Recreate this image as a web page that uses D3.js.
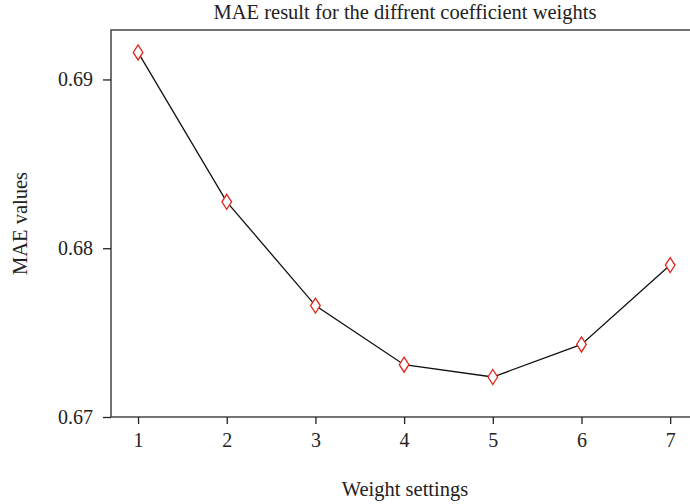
<!DOCTYPE html>
<html>
<head>
<meta charset="utf-8">
<script src="https://cdn.jsdelivr.net/npm/d3@7"></script>
<style>
  body { margin: 0; background: #fff; }
  svg text { font-family: "Liberation Serif", "DejaVu Serif", serif; fill: #222; }
</style>
</head>
<body>
<svg id="chart"></svg>
<script>
// 数据
let weights = [1, 2, 3, 4, 5, 6, 7];
let mae_values = [0.6916, 0.68275, 0.6766, 0.6731, 0.67237, 0.6743, 0.6790];
let y_ticks = [0.67, 0.68, 0.69];

function draw_mae(containerid) {
    let width = 690, height = 504;
    let padding = { left: 111, right: -9, top: 30, bottom: 87 };

    let svg = d3.select('#' + containerid)
        .attr('width', width)
        .attr('height', height);

    let x = d3.scaleLinear()
        .domain([0.695, 7.325])
        .range([padding.left, width - padding.right]);
    let y = d3.scaleLinear()
        .domain([0.67, 0.69293])
        .range([height - padding.bottom, padding.top]);

    // 边框
    svg.append('rect')
        .attr('x', padding.left)
        .attr('y', padding.top)
        .attr('width', width - padding.right - padding.left)
        .attr('height', height - padding.bottom - padding.top)
        .attr('fill', 'none')
        .attr('stroke', '#444')
        .attr('stroke-width', 1.5);

    // x axis
    let axis_x = d3.axisBottom(x)
        .tickValues(weights)
        .tickSize(7)
        .tickPadding(9)
        .tickFormat(d => d);
    let gx = svg.append('g')
        .attr('transform', `translate(0, ${height - padding.bottom})`)
        .call(axis_x);
    gx.select('.domain').remove();
    gx.selectAll('line').attr('stroke', '#222').attr('stroke-width', 1.3);
    gx.selectAll('text').attr('font-size', '20px').attr('fill', '#222');

    // y axis
    let axis_y = d3.axisLeft(y)
        .tickValues(y_ticks)
        .tickSize(8)
        .tickPadding(10)
        .tickFormat(d3.format('.2f'));
    let gy = svg.append('g')
        .attr('transform', `translate(${padding.left}, 0)`)
        .call(axis_y);
    gy.select('.domain').remove();
    gy.selectAll('line').attr('stroke', '#222').attr('stroke-width', 1.3);
    gy.selectAll('text').attr('font-size', '20px').attr('fill', '#222');

    // 折线
    let line = d3.line()
        .x((d, i) => x(weights[i]))
        .y(d => y(d));
    svg.append('path')
        .datum(mae_values)
        .attr('d', line)
        .attr('fill', 'none')
        .attr('stroke', '#111')
        .attr('stroke-width', 1.3);

    // 菱形点
    svg.append('g')
        .selectAll('path')
        .data(mae_values)
        .enter().append('path')
        .attr('d', 'M0,-7.5L4.8,0L0,7.5L-4.8,0Z')
        .attr('transform', (d, i) => `translate(${x(weights[i])}, ${y(d)})`)
        .attr('fill', '#fff')
        .attr('stroke', '#e0261c')
        .attr('stroke-width', 1.3);

    // 标题
    svg.append('text')
        .attr('x', (padding.left + width - padding.right) / 2)
        .attr('y', 19)
        .attr('text-anchor', 'middle')
        .attr('font-size', '20.5px')
        .text('MAE result for the diffrent coefficient weights');

    svg.append('text')
        .attr('x', (padding.left + width - padding.right) / 2)
        .attr('y', 496)
        .attr('text-anchor', 'middle')
        .attr('font-size', '20.5px')
        .text('Weight settings');

    svg.append('text')
        .attr('transform', `translate(27, ${(padding.top + height - padding.bottom) / 2}) rotate(-90)`)
        .attr('text-anchor', 'middle')
        .attr('font-size', '20.5px')
        .text('MAE values');
}

draw_mae('chart');
</script>
</body>
</html>
